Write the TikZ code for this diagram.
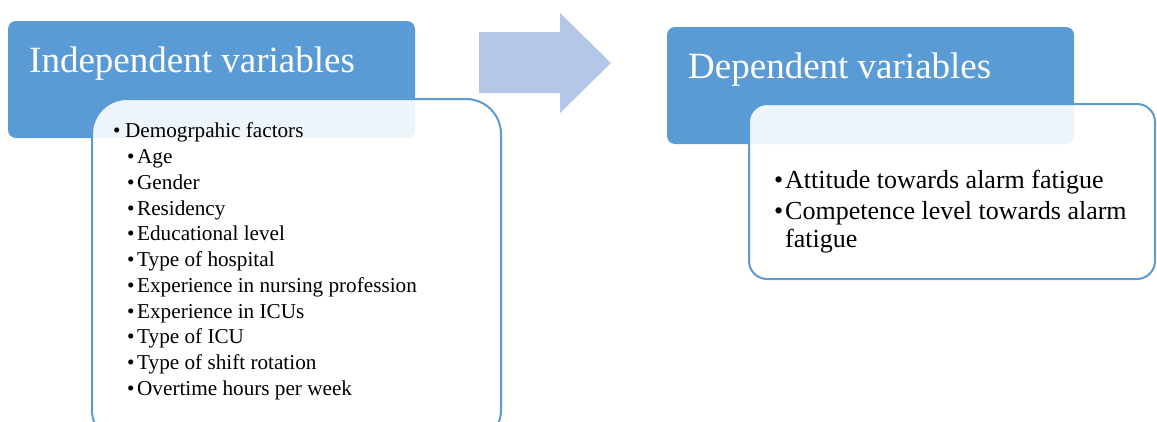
\documentclass[tikz,border=0pt]{standalone}
\usepackage{fontspec}
\setmainfont{Liberation Serif}
\definecolor{headblue}{HTML}{5B9BD5}
\definecolor{arrowblue}{HTML}{B4C7E7}
\tikzset{
  headbox/.style={fill=headblue, draw=none, rounded corners=8pt},
  listbox/.style={fill=white, fill opacity=0.9, draw=headblue, line width=2pt},
  headtext/.style={anchor=base west, inner sep=0pt, text=white, font=\fontsize{37}{40}\selectfont},
  indepitem/.style={anchor=base west, inner sep=0pt, font=\fontsize{21.2}{24}\selectfont},
  depitem/.style={anchor=base west, inner sep=0pt, font=\fontsize{26}{28}\selectfont}
}
\newcommand{\bul}[1]{\makebox[#1][l]{\textbullet}}
\begin{document}
\begin{tikzpicture}[x=1pt, y=-1pt]
      \useasboundingbox (0, 0) rectangle (1157, 421);
      \clip (0, 0) rectangle (1157, 421);

      % left side
      \fill[headbox] (8, 21) rectangle (415, 138);
      \draw[listbox, rounded corners=35pt] (92, 99) rectangle (501, 445);
      \node[headtext] (indep) at (29, 72){Independent variables};

      \node[indepitem] (demo) at (113, 137){\bul{12pt}Demogrpahic factors};
      \node[indepitem] (age) at (127, 163){\bul{10pt}Age};
      \node[indepitem] (gender) at (127, 189){\bul{10pt}Gender};
      \node[indepitem] (resid) at (127, 215){\bul{10pt}Residency};
      \node[indepitem] (edu) at (127, 240){\bul{10pt}Educational level};
      \node[indepitem] (hosp) at (127, 266){\bul{10pt}Type of hospital};
      \node[indepitem] (expnurse) at (127, 292){\bul{10pt}Experience in nursing profession};
      \node[indepitem] (expicu) at (127, 318){\bul{10pt}Experience in ICUs};
      \node[indepitem] (icu) at (127, 343){\bul{10pt}Type of ICU};
      \node[indepitem] (shift) at (127, 369){\bul{10pt}Type of shift rotation};
      \node[indepitem] (overtime) at (127, 395){\bul{10pt}Overtime hours per week};

      % arrow
      \fill[arrowblue] (479, 32) -- (560, 32) -- (560, 13) -- (611, 63)
        -- (560, 113) -- (560, 93) -- (479, 93) -- cycle;

      % right side
      \fill[headbox] (667, 27) rectangle (1074, 144);
      \draw[listbox, rounded corners=18pt] (749, 104) rectangle (1155, 279);
      \node[headtext] (dep) at (688, 78){Dependent variables};

      \node[depitem] (attitude) at (774, 188){\bul{11pt}Attitude towards alarm fatigue};
      \node[depitem] (compet) at (774, 219){\bul{11pt}Competence level towards alarm};
      \node[depitem] (compet2) at (785, 247){fatigue};
    \end{tikzpicture}
\end{document}
